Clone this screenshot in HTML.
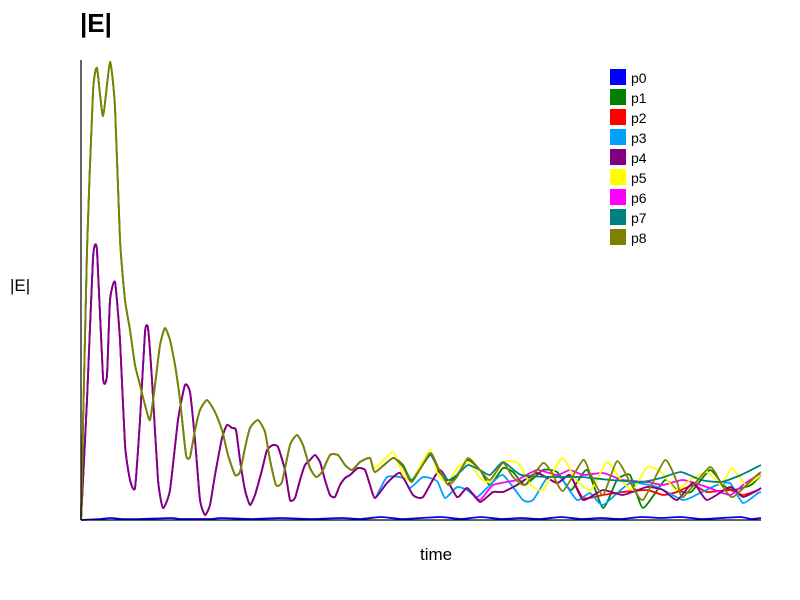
<!DOCTYPE html>
<html><head><meta charset="utf-8"><style>
body{margin:0;background:#fff;}
svg{display:block;font-family:"Liberation Sans",sans-serif;}
</style></head><body>
<svg id="chart" width="800" height="600">
<text x="80" y="32" font-size="26" font-weight="bold">|E|</text>
<text x="10" y="291" font-size="17">|E|</text>
<text x="420" y="560" font-size="17">time</text>
<g id="plot"></g>
<line x1="81" y1="60" x2="81" y2="520" stroke="#000" stroke-width="1.2"/>
<line x1="81" y1="520" x2="761" y2="520" stroke="#000" stroke-width="1.2"/>
<g id="legend"></g>
</svg>
<script>
const seriesNames=["p0","p1","p2","p3","p4","p5","p6","p7","p8"];
const seriesColors=["#0000ff","#008000","#ff0000","#00a0ff","#800080","#ffff00","#ff00ff","#008080","#808000"];
const drawOrder=[0,1,2,3,6,4,5,7,8];
const earlyA=[[0,0],[6,270],[12,428],[16,452],[22,404],[29,458],[34,413],[39,280],[44,220],[49,190],[54,155],[59,135],[64,115],[69,100],[74,135],[79,175],[84,192],[89,180],[94,155],[99,120],[105,65],[109,63],[114,90],[119,110],[126,120],[134,108],[141,90],[147,65],[154,45],[159,48],[164,72],[169,92],[177,100],[184,88],[189,60],[195,35],[201,38],[209,75],[216,85],[222,75],[229,52],[235,43],[241,48],[249,65],[257,65],[264,55],[271,50],[279,58],[289,62]];
const lateP8=[[294,48],[312,62],[322,53],[331,38],[349,67],[357,53],[367,35],[376,43],[387,62],[399,50],[409,40],[422,57],[432,43],[444,35],[462,57],[471,47],[482,29],[502,60],[509,47],[522,25],[536,59],[549,38],[562,20],[584,60],[596,38],[602,23],[629,53],[642,33],[652,23],[676,45],[680,48]];
const lateP5=[[294,52],[312,68],[322,45],[331,40],[349,70],[357,45],[367,38],[376,52],[387,58],[399,42],[409,38],[422,58],[437,57],[450,35],[462,30],[481,62],[495,40],[510,30],[526,58],[540,40],[552,30],[566,53],[580,48],[595,30],[609,40],[626,48],[640,35],[651,52],[665,35],[680,45]];
const lateP1=[[294,48],[312,62],[322,55],[331,40],[349,65],[357,50],[367,38],[376,45],[387,60],[399,50],[409,35],[422,52],[432,48],[444,35],[462,50],[476,48],[490,30],[506,50],[522,12],[536,40],[549,45],[562,12],[584,40],[596,30],[610,28],[629,50],[642,35],[652,30],[670,35],[680,45]];
const lateP7=[[294,48],[312,62],[322,53],[331,40],[349,65],[357,52],[367,40],[376,45],[387,55],[399,50],[409,45],[422,58],[440,45],[470,43],[500,43],[530,40],[560,38],[580,42],[600,48],[620,40],[640,38],[660,45],[680,55]];
const earlyB=[[0,0],[6,120],[12,262],[16,270],[22,142],[26,145],[29,220],[34,238],[39,180],[44,75],[49,40],[54,32],[59,100],[64,188],[67,192],[71,140],[77,40],[82,12],[89,30],[97,100],[104,135],[109,128],[114,80],[119,20],[124,5],[129,15],[134,45],[141,82],[146,95],[151,92],[155,90],[159,60],[164,30],[169,15],[174,25],[181,50],[186,70],[192,75],[197,73],[204,50],[209,20],[214,22],[219,40],[224,55],[229,60],[234,65],[239,58],[244,40],[249,25],[254,23],[259,35],[264,42],[269,45],[277,52],[284,50],[289,35]];
const lateP4=[[294,22],[306,37],[319,47],[332,25],[342,23],[359,50],[376,23],[386,32],[399,18],[412,28],[422,28],[436,35],[456,47],[476,37],[489,45],[502,20],[522,30],[542,25],[566,33],[582,30],[596,20],[612,37],[626,20],[649,33],[662,23],[677,30],[680,32]];
const lateP3=[[294,22],[306,43],[322,42],[329,32],[342,43],[356,39],[364,22],[376,33],[386,30],[396,23],[409,35],[422,45],[442,20],[452,20],[466,42],[479,43],[496,20],[509,27],[522,15],[549,37],[576,33],[602,20],[619,27],[636,35],[649,37],[662,17],[677,27],[680,28]];
const lateP6=[[294,22],[306,37],[319,47],[332,25],[342,23],[359,50],[376,23],[386,32],[399,20],[412,35],[436,40],[456,50],[476,45],[489,50],[502,45],[522,47],[542,40],[566,38],[582,35],[602,40],[626,33],[649,25],[662,35],[677,45],[680,45]];
const lateP2=[[294,22],[306,37],[319,47],[332,25],[342,23],[359,50],[376,23],[386,32],[399,18],[412,28],[422,28],[436,35],[456,47],[476,37],[489,45],[502,22],[522,25],[542,28],[566,30],[582,25],[596,28],[612,35],[626,28],[649,30],[662,25],[677,30],[680,32]];
const seriesP0=[[0,0],[20,1],[30,2],[40,1],[60,1],[90,2],[100,1],[130,1],[140,2],[170,1],[200,2],[230,1],[260,2],[280,1],[300,3],[320,1],[340,2],[360,3],[380,1],[400,3],[420,1],[440,2],[460,1],[480,3],[500,1],[520,2],[540,1],[560,3],[580,2],[600,3],[620,1],[640,2],[660,3],[670,1],[680,2]];
const seriesData=[seriesP0,earlyA.concat(lateP1),earlyB.concat(lateP2),earlyB.concat(lateP3),earlyB.concat(lateP4),earlyA.concat(lateP5),earlyB.concat(lateP6),earlyA.concat(lateP7),earlyA.concat(lateP8)];
const NS="http://www.w3.org/2000/svg";
const xS=t=>81+t*(680/680);
const yS=v=>520-v*(460/460);
function smoothPath(pts){
  let d="M"+pts[0][0].toFixed(1)+","+pts[0][1].toFixed(1);
  for(let i=0;i<pts.length-1;i++){
    const p0=pts[Math.max(0,i-1)],p1=pts[i],p2=pts[i+1],p3=pts[Math.min(pts.length-1,i+2)];
    const k=0.09;
    const c1x=p1[0]+(p2[0]-p0[0])*k,c1y=p1[1]+(p2[1]-p0[1])*k;
    const c2x=p2[0]-(p3[0]-p1[0])*k,c2y=p2[1]-(p3[1]-p1[1])*k;
    d+=" C"+c1x.toFixed(1)+","+c1y.toFixed(1)+" "+c2x.toFixed(1)+","+c2y.toFixed(1)+" "+p2[0].toFixed(1)+","+p2[1].toFixed(1);
  }
  return d;
}
const plot=document.getElementById("plot");
drawOrder.forEach(i=>{
  const d=seriesData[i];
  const p=document.createElementNS(NS,"path");
  p.setAttribute("d",smoothPath(d.map(q=>[xS(q[0]),yS(q[1])])));
  p.setAttribute("fill","none");
  p.setAttribute("stroke",seriesColors[i]);
  p.setAttribute("stroke-width","1.8");
  p.setAttribute("stroke-linejoin","round");
  
  
  plot.appendChild(p);
});
const lg=document.getElementById("legend");
seriesNames.forEach((n,i)=>{
  const g=document.createElementNS(NS,"g");
  
  
  const r=document.createElementNS(NS,"rect");
  r.setAttribute("x",610);r.setAttribute("y",69+i*20);r.setAttribute("width",16);r.setAttribute("height",16);
  r.setAttribute("fill",seriesColors[i]);
  const t=document.createElementNS(NS,"text");
  t.setAttribute("x",631);t.setAttribute("y",83+i*20);t.setAttribute("font-size","14");
  t.textContent=n;
  g.appendChild(r);g.appendChild(t);lg.appendChild(g);
});
</script>
</body></html>
